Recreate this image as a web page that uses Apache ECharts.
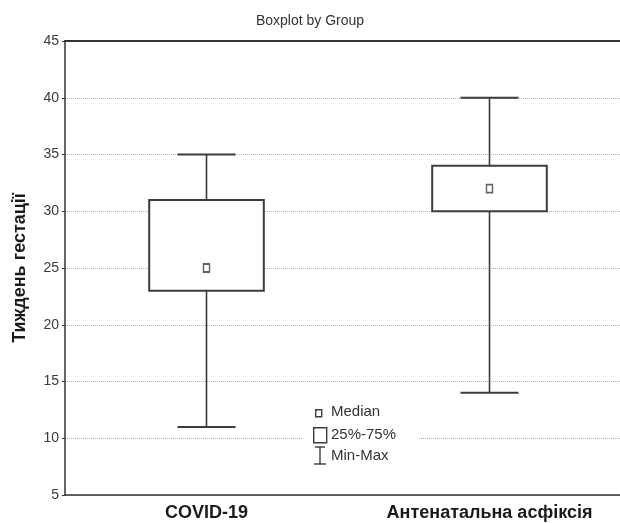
<!DOCTYPE html>
<html>
<head>
<meta charset="utf-8">
<script src="https://cdn.jsdelivr.net/npm/echarts@6/dist/echarts.min.js"></script>
<style>
  html, body { margin: 0; padding: 0; background: #fff; }
  #chart { width: 620px; height: 523px; }
</style>
</head>
<body>
<div id="chart"></div>
<script>
// values
var categories = ['COVID-19', 'Антенатальна асфіксія'];
var minVals = [11, 14];
var q1Vals = [23, 30];
var medianVals = [25, 32];
var q3Vals = [31, 34];
var maxVals = [35, 40];
var yTicks = { min: 5, max: 45, step: 5 };

var lineColor = '#3c3c3c';
var font = 'Liberation Sans, Arial';

var boxData = categories.map(function (c, i) {
    return [i, minVals[i], q1Vals[i], medianVals[i], q3Vals[i], maxVals[i]];
});
var medianData = categories.map(function (c, i) {
    return [i, medianVals[i]];
});

var chart = echarts.init(document.getElementById('chart'));

function renderBox(params, api) {
    var idx = api.value(0);
    var pMin = api.coord([idx, api.value(1)]);
    var pQ1 = api.coord([idx, api.value(2)]);
    var pQ3 = api.coord([idx, api.value(4)]);
    var pMax = api.coord([idx, api.value(5)]);
    var bandW = api.size([1, 0])[0];
    var boxW = bandW * 0.405;
    var capW = bandW * 0.205;
    var x = pQ1[0];
    var st = { stroke: lineColor, lineWidth: 1.6, fill: null };
    return {
        type: 'group',
        children: [
            { type: 'line', shape: { x1: x, y1: pMax[1], x2: x, y2: pQ3[1] }, style: st },
            { type: 'line', shape: { x1: x, y1: pQ1[1], x2: x, y2: pMin[1] }, style: st },
            { type: 'line', shape: { x1: x - capW / 2, y1: pMax[1], x2: x + capW / 2, y2: pMax[1] }, style: { stroke: lineColor, lineWidth: 2 } },
            { type: 'line', shape: { x1: x - capW / 2, y1: pMin[1], x2: x + capW / 2, y2: pMin[1] }, style: { stroke: lineColor, lineWidth: 2 } },
            { type: 'rect', shape: { x: x - boxW / 2, y: pQ3[1], width: boxW, height: pQ1[1] - pQ3[1] },
              style: { stroke: lineColor, lineWidth: 2, fill: '#fff' } }
        ]
    };
}

var option = {
    animation: false,
    backgroundColor: '#fff',
    title: {
        text: 'Boxplot by Group',
        left: 'center',
        top: 9,
        textStyle: { fontFamily: font, fontSize: 14, fontWeight: 'normal', color: '#333' }
    },
    grid: { left: 65, top: 41, width: 566, height: 454, outerBoundsMode: 'none' },
    xAxis: [
        {
            type: 'category',
            data: categories,
            boundaryGap: true,
            axisLine: { lineStyle: { color: '#333', width: 1.5 } },
            axisTick: { alignWithLabel: true, inside: true, length: 5, lineStyle: { color: '#333' } },
            axisLabel: { fontFamily: font, fontSize: 18, fontWeight: 'bold', color: '#1a1a1a', margin: 9 },
            splitLine: { show: false }
        },
        {
            type: 'category',
            position: 'top',
            data: categories,
            boundaryGap: true,
            axisLine: { lineStyle: { color: '#333', width: 2 } },
            axisTick: { alignWithLabel: true, inside: true, length: 5, lineStyle: { color: '#333' } },
            axisLabel: { show: false }
        }
    ],
    yAxis: {
        type: 'value',
        min: yTicks.min,
        max: yTicks.max,
        interval: yTicks.step,
        name: 'Тиждень гестації',
        nameLocation: 'middle',
        nameGap: 36,
        nameTextStyle: { fontFamily: font, fontSize: 18, fontWeight: 'bold', color: '#1a1a1a' },
        axisLine: { show: true, lineStyle: { color: '#333', width: 1.5 } },
        axisTick: { show: true, length: 3, lineStyle: { color: '#333' } },
        axisLabel: { fontFamily: font, fontSize: 14, color: '#3a3a3a', margin: 6 },
        splitLine: { show: true, lineStyle: { color: '#b0b0b0', type: 'dotted', width: 1 } }
    },
    series: [
        {
            type: 'custom',
            renderItem: renderBox,
            encode: { x: 0, y: [1, 2, 3, 4, 5] },
            data: boxData,
            z: 2
        },
        {
            type: 'scatter',
            data: medianData,
            symbol: 'rect',
            symbolSize: [6, 8],
            itemStyle: { color: '#fff', borderColor: lineColor, borderWidth: 1.6 },
            z: 3
        }
    ],
    graphic: [
        { type: 'rect', z: 20, left: 303, top: 400, shape: { width: 116, height: 70 }, style: { fill: '#fff' } },
        { type: 'rect', z: 21, left: 315, top: 409, shape: { width: 6, height: 7 }, style: { fill: '#fff', stroke: lineColor, lineWidth: 1.4 } },
        { type: 'text', z: 21, left: 331, top: 404, style: { text: 'Median', fontFamily: font, fontSize: 15, fill: '#333' } },
        { type: 'rect', z: 21, left: 313, top: 427, shape: { width: 13, height: 15 }, style: { fill: '#fff', stroke: lineColor, lineWidth: 1.4 } },
        { type: 'text', z: 21, left: 331, top: 427, style: { text: '25%-75%', fontFamily: font, fontSize: 15, fill: '#333' } },
        { type: 'line', z: 21, shape: { x1: 320, y1: 447, x2: 320, y2: 464 }, style: { stroke: lineColor, lineWidth: 1.4 } },
        { type: 'line', z: 21, shape: { x1: 315, y1: 447, x2: 325, y2: 447 }, style: { stroke: lineColor, lineWidth: 1.4 } },
        { type: 'line', z: 21, shape: { x1: 314, y1: 464, x2: 326, y2: 464 }, style: { stroke: lineColor, lineWidth: 1.4 } },
        { type: 'text', z: 21, left: 331, top: 448, style: { text: 'Min-Max', fontFamily: font, fontSize: 15, fill: '#333' } }
    ]
};

chart.setOption(option);
</script>
</body>
</html>
